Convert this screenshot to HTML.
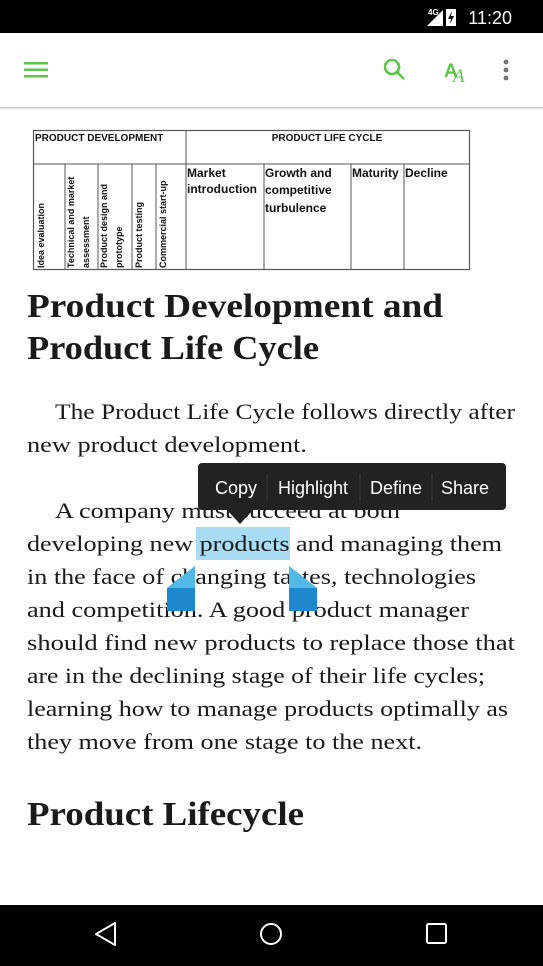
<!DOCTYPE html>
<html><head><meta charset="utf-8"><style>
html,body{margin:0;padding:0;width:543px;height:966px;overflow:hidden;background:#fff}
svg{display:block}
</style></head><body>
<svg width="543" height="966" viewBox="0 0 543 966" xmlns="http://www.w3.org/2000/svg" font-family="Liberation Serif, serif">
<defs><linearGradient id="sh" x1="0" y1="0" x2="0" y2="1"><stop offset="0" stop-color="#bbb"/><stop offset="1" stop-color="#fff" stop-opacity="0"/></linearGradient></defs>
<g>
<rect x="0" y="0" width="543" height="33" fill="#000"/>
<text x="428" y="15" font-family="Liberation Sans, sans-serif" font-size="8" font-weight="bold" fill="#fff">4G</text>
<polygon points="427,26 443,10 443,26" fill="#fff"/>
<rect x="446" y="9" width="10" height="17" fill="#fff"/>
<polygon points="452,11 448,19 451,19 450,24 454,16 451,16" fill="#000"/>
<text x="512" y="24" text-anchor="end" font-family="Liberation Sans, sans-serif" font-size="18" fill="#fff">11:20</text>
</g>
<g>
<rect x="0" y="33" width="543" height="74" fill="#fff"/>
<rect x="0" y="107" width="543" height="4" fill="url(#sh)"/>
<g fill="#5cc54a">
<rect x="24" y="62" width="24" height="2.5"/><rect x="24" y="68.5" width="24" height="2.5"/><rect x="24" y="75" width="24" height="2.5"/></g>
<g stroke="#5cc54a" stroke-width="2.6" fill="none">
<circle cx="392" cy="67" r="7"/><line x1="397" y1="72" x2="404" y2="79"/></g>
<g>
<text x="444" y="77" font-family="Liberation Sans, sans-serif" font-weight="bold" font-size="19" fill="#5cc54a">A</text>
<text x="453" y="82" font-family="Liberation Serif, serif" font-style="italic" font-size="19" fill="#5cc54a">A</text></g>
<g fill="#757575">
<circle cx="506" cy="62" r="2.4"/><circle cx="506" cy="70" r="2.4"/><circle cx="506" cy="78" r="2.4"/></g>
</g>
<g font-family="Liberation Sans, sans-serif" font-weight="bold" fill="#111">
<rect x="33.5" y="130.5" width="436" height="139" fill="#fff" stroke="#555" stroke-width="1.2"/>
<line x1="186" y1="130" x2="186" y2="270" stroke="#555"/>
<line x1="33" y1="164" x2="470" y2="164" stroke="#555"/>
<g stroke="#555"><line x1="65" y1="164" x2="65" y2="270"/><line x1="98" y1="164" x2="98" y2="270"/><line x1="132" y1="164" x2="132" y2="270"/><line x1="156" y1="164" x2="156" y2="270"/><line x1="264" y1="164" x2="264" y2="270"/><line x1="351" y1="164" x2="351" y2="270"/><line x1="404" y1="164" x2="404" y2="270"/></g>
<text x="35" y="141" font-size="10">PRODUCT DEVELOPMENT</text>
<text x="327" y="141" font-size="10" text-anchor="middle">PRODUCT LIFE CYCLE</text>
<text x="187" y="177" font-size="12">Market</text><text x="187" y="193" font-size="12">introduction</text>
<text x="265" y="177" font-size="12">Growth and</text><text x="265" y="194" font-size="12">competitive</text><text x="265" y="212" font-size="12">turbulence</text>
<text x="352" y="177" font-size="12">Maturity</text><text x="405" y="177" font-size="12">Decline</text>
<g font-size="9">
<text transform="translate(44,268) rotate(-90)">Idea evaluation</text>
<text transform="translate(74,268) rotate(-90)">Technical and market</text>
<text transform="translate(89,268) rotate(-90)">assessment</text>
<text transform="translate(107,268) rotate(-90)">Product design and</text>
<text transform="translate(122,268) rotate(-90)">prototype</text>
<text transform="translate(142,268) rotate(-90)">Product testing</text>
<text transform="translate(166,268) rotate(-90)">Commercial start-up</text>
</g></g>
<g fill="#1a1a1a">
<text x="27" y="317" font-size="34" font-weight="bold" textLength="416" lengthAdjust="spacingAndGlyphs">Product Development and</text>
<text x="27" y="359" font-size="34" font-weight="bold" textLength="292" lengthAdjust="spacingAndGlyphs">Product Life Cycle</text>
<rect x="196" y="527" width="94" height="33" fill="#a9dcf3"/>
<g font-size="22">
<text x="55" y="419" textLength="460" lengthAdjust="spacingAndGlyphs">The Product Life Cycle follows directly after</text>
<text x="27" y="452" textLength="280" lengthAdjust="spacingAndGlyphs">new product development.</text>
<text x="55" y="518" textLength="345" lengthAdjust="spacingAndGlyphs">A company must succeed at both</text>
<text x="27" y="551" textLength="475" lengthAdjust="spacingAndGlyphs">developing new products and managing them</text>
<text x="27" y="584" textLength="449" lengthAdjust="spacingAndGlyphs">in the face of changing tastes, technologies</text>
<text x="27" y="617" textLength="442" lengthAdjust="spacingAndGlyphs">and competition. A good product manager</text>
<text x="27" y="650" textLength="488" lengthAdjust="spacingAndGlyphs">should find new products to replace those that</text>
<text x="27" y="683" textLength="458" lengthAdjust="spacingAndGlyphs">are in the declining stage of their life cycles;</text>
<text x="27" y="716" textLength="481" lengthAdjust="spacingAndGlyphs">learning how to manage products optimally as</text>
<text x="27" y="749" textLength="395" lengthAdjust="spacingAndGlyphs">they move from one stage to the next.</text>
</g>
<text x="27" y="825" font-size="34" font-weight="bold" textLength="277" lengthAdjust="spacingAndGlyphs">Product Lifecycle</text>
</g>
<g>
<polygon points="195,566 195,611 167,611 167,588" fill="#1e88cf"/><polygon points="195,566 167,588 195,588" fill="#52b8e6"/></g>
<g>
<polygon points="289,566 289,611 317,611 317,588" fill="#1e88cf"/><polygon points="289,566 317,588 289,588" fill="#52b8e6"/></g>
<g font-family="Liberation Sans, sans-serif" font-size="18" fill="#fff">
<rect x="198" y="463" width="308" height="47" rx="4" fill="#222"/>
<polygon points="226,509 254,509 240,524" fill="#222"/>
<g stroke="#3c3c3c"><line x1="267" y1="474" x2="267" y2="500"/><line x1="360" y1="474" x2="360" y2="500"/><line x1="432" y1="474" x2="432" y2="500"/></g>
<text x="236" y="494" text-anchor="middle">Copy</text>
<text x="313" y="494" text-anchor="middle">Highlight</text>
<text x="396" y="494" text-anchor="middle">Define</text>
<text x="465" y="494" text-anchor="middle">Share</text>
</g>
<g>
<rect x="0" y="905" width="543" height="61" fill="#000"/>
<polygon points="96,934 115,923 115,945" fill="none" stroke="#fff" stroke-width="2" stroke-linejoin="round"/>
<circle cx="271" cy="934" r="10" fill="none" stroke="#fff" stroke-width="2"/>
<rect x="427" y="924" width="19" height="19" rx="1.5" fill="none" stroke="#fff" stroke-width="2"/>
</g>
</svg>
</body></html>
